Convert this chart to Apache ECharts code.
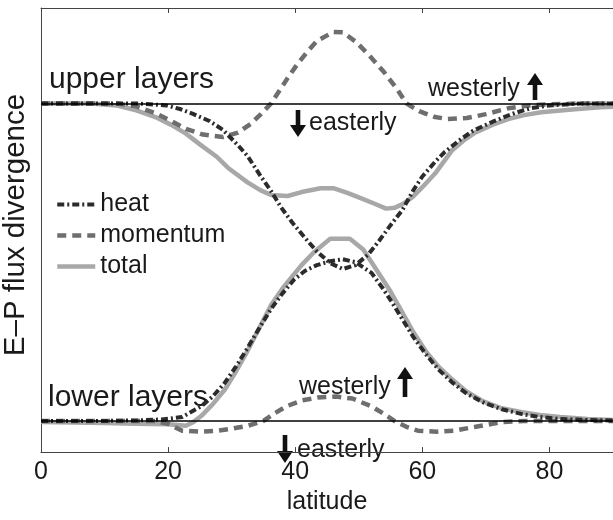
<!DOCTYPE html>
<html><head><meta charset="utf-8">
<script src="https://cdn.jsdelivr.net/npm/echarts@6/dist/echarts.min.js"></script>
<style>html,body{margin:0;padding:0;background:#fff}#c{width:613px;height:520px}</style>
</head><body><div id="c"></div>
<script>
// latitude tick labels
const xTicks = [0, 20, 40, 60, 80];
const legendNames = ['heat', 'momentum', 'total'];

// upper layers: [latitude, E-P flux divergence (arb. units)]
const upperHeat = [[0,0],[10,0],[15,0],[19.7,-0.2],[22,-0.6],[24,-1.1],[26.5,-1.8],[28.6,-2.7],[31,-4.3],[32.5,-5.4],[34.6,-7.5],[36.2,-9.0],[37.7,-10.6],[39.5,-12.2],[41.4,-13.7],[43.4,-15.2],[45.5,-16.4],[47.5,-17.0],[49.5,-16.6],[51.5,-15.5],[53.2,-14.1],[55,-12.5],[56.9,-10.9],[58.5,-9.0],[60,-7.5],[62,-6.0],[63.5,-5.0],[66,-3.7],[68,-2.8],[71,-1.9],[74,-1.1],[77,-0.5],[80,-0.2],[85,0],[90,0]];
const upperMomentum = [[0,0],[8,0],[12,0],[15,-0.3],[18,-1.0],[20.5,-1.8],[22.8,-2.6],[25.5,-3.2],[28.6,-3.45],[31,-3.0],[33,-2.1],[34.6,-1.1],[36.2,0],[38.8,2.6],[40.3,4.0],[41.9,5.3],[43.4,6.4],[46,7.35],[47.5,7.3],[49.6,6.3],[51.7,4.9],[54,3.2],[56,1.5],[57.5,0],[59.5,-0.8],[62,-1.4],[64,-1.6],[67,-1.5],[70,-1.1],[73.5,-0.5],[77,-0.2],[80,-0.1],[85,0],[90,0]];
const upperTotal = [[0,0],[8,0],[11.8,-0.2],[15,-0.7],[18,-1.4],[20.5,-2.2],[22.8,-3.1],[25,-4.2],[27.7,-5.5],[29.4,-6.6],[32.5,-8.1],[34.5,-8.9],[36.2,-9.4],[38.8,-9.5],[41,-9.1],[44,-8.7],[46,-8.7],[48.3,-9.2],[50.2,-9.7],[52.5,-10.3],[54.3,-10.8],[55.7,-10.7],[57,-10.3],[58.5,-9.6],[60,-8.6],[62,-7.2],[64.7,-4.8],[66.5,-3.8],[68.3,-3.0],[71,-2.2],[73.5,-1.6],[76,-1.2],[78.7,-0.9],[84,-0.6],[88,-0.4],[90,-0.35]];

// lower layers
const lowerHeat = [[0,0],[10,0],[15,0.05],[19,0.15],[22.2,0.4],[25.2,1.5],[27,2.5],[28.9,3.9],[30.7,5.6],[32.5,7.5],[34.4,9.6],[36.2,11.5],[38,13.1],[39.8,14.5],[41.5,15.4],[43.4,16.0],[45.5,16.4],[47.5,16.6],[49.5,16.3],[52,15.2],[53.8,13.6],[55.3,12.1],[56.8,10.5],[58.6,8.6],[60.5,6.9],[62.5,5.3],[64.8,3.9],[67,2.8],[69.6,1.9],[72.5,1.2],[75.7,0.7],[78.5,0.4],[81.7,0.2],[86,0.1],[90,0.05]];
const lowerMomentum = [[0,0],[10,0],[18,0],[20,-0.3],[22.2,-1.0],[25,-1.1],[27.7,-1.0],[30,-0.8],[32.5,-0.5],[35,0],[36.8,0.8],[38.6,1.5],[41,2.1],[43.5,2.4],[46.5,2.5],[49,2.3],[52,1.5],[54,0.7],[55.6,0],[57.5,-0.6],[59.3,-1.0],[62.3,-1.1],[65,-1.0],[68.4,-0.6],[72.7,-0.1],[76,0],[90,0]];
const lowerTotal = [[0,-0.1],[10,-0.2],[15,-0.3],[20,-0.35],[22.8,-0.5],[24,-0.1],[25.2,0.5],[27,1.7],[28.9,3.2],[30.7,5.1],[32.5,7.2],[34.4,9.6],[36.2,11.9],[38,13.6],[39.6,14.9],[41,16.0],[42.9,17.3],[45.5,18.7],[48.6,18.7],[50.7,17.6],[52.5,15.8],[54.8,13.5],[56.8,11.2],[58.6,9.1],[60.5,7.2],[62.5,5.6],[64.8,4.2],[67,3.0],[69.6,2.0],[72.5,1.3],[75.7,0.9],[78.5,0.6],[81.7,0.4],[86,0.2],[90,0.1]];

const FONT = 'Liberation Sans, Arial, Helvetica, sans-serif';
const TXT = '#1a1a1a';
const AX = '#444';

const styles = {
  heat: { color: '#2b2b2b', width: 4, type: [7, 3, 2, 3] },
  momentum: { color: '#6e6e6e', width: 4.5, type: [9, 6] },
  total: { color: '#a8a8a8', width: 4.5, type: 'solid' }
};

function mkSeries(name, data, yIdx, z, withZero) {
  const st = styles[name];
  const s = {
    type: 'line', name: name, data: data, xAxisIndex: 0, yAxisIndex: yIdx,
    showSymbol: false, symbol: 'none', smooth: false, z: z,
    lineStyle: { color: st.color, width: st.width, type: st.type, cap: 'butt' },
    itemStyle: { color: st.color },
    emphasis: { disabled: true }
  };
  if (withZero) {
    s.markLine = {
      silent: true, symbol: 'none', label: { show: false },
      lineStyle: { color: '#000', width: 1.5, type: 'solid' },
      data: [{ yAxis: 0 }], animation: false
    };
  }
  return s;
}

function arrow(cx, tipY, tailY) {
  const dir = tailY > tipY ? 1 : -1;
  const hh = 12 * dir, hw = 8, sw = 2.3;
  return {
    type: 'polygon', silent: true,
    shape: { points: [[cx, tipY], [cx + hw, tipY + hh], [cx + sw, tipY + hh], [cx + sw, tailY], [cx - sw, tailY], [cx - sw, tipY + hh], [cx - hw, tipY + hh]] },
    style: { fill: '#111' }
  };
}
function label(text, x, y, size) {
  return { type: 'text', x: x, y: y, silent: true,
    style: { text: text, fontSize: size, fontFamily: FONT, fill: TXT, align: 'left', verticalAlign: 'middle' } };
}

const chart = echarts.init(document.getElementById('c'), null, { renderer: 'canvas' });
chart.setOption({
  animation: false,
  backgroundColor: '#fff',
  grid: { left: 41, top: 8, bottom: 56, right: -6, containLabel: false },
  legend: {
    data: legendNames.map(n => ({
      name: n,
      itemStyle: { opacity: 0 },
      lineStyle: { color: styles[n].color, width: styles[n].width, type: styles[n].type, opacity: 1 }
    })),
    orient: 'vertical', left: 55, top: 192,
    itemWidth: 38, itemHeight: 14, itemGap: 6, padding: 0,
    textStyle: { fontSize: 25, fontFamily: FONT, color: TXT },
    selectedMode: false
  },
  xAxis: [
    { type: 'value', min: 0, max: 90, interval: 20, position: 'bottom',
      axisLine: { show: true, onZero: false, lineStyle: { color: AX, width: 1 } },
      axisTick: { show: true, inside: true, length: 5, lineStyle: { color: AX } },
      axisLabel: { show: true, fontSize: 25, fontFamily: FONT, color: TXT, margin: 8, showMaxLabel: false,
        formatter: v => (xTicks.indexOf(v) >= 0 ? String(v) : '') },
      splitLine: { show: false },
      name: 'latitude', nameLocation: 'middle', nameGap: 26,
      nameTextStyle: { fontSize: 25, fontFamily: FONT, color: TXT } },
    { type: 'value', min: 0, max: 90, interval: 20, position: 'top',
      axisLine: { show: true, onZero: false, lineStyle: { color: AX, width: 1 } },
      axisTick: { show: true, inside: true, length: 5, lineStyle: { color: AX } },
      axisLabel: { show: false }, splitLine: { show: false } }
  ],
  yAxis: [
    { type: 'value', min: -35.8, max: 9.8, position: 'left',
      axisLine: { show: true, onZero: false, lineStyle: { color: AX, width: 1 } },
      axisTick: { show: false }, axisLabel: { show: false }, splitLine: { show: false } },
    { type: 'value', min: -3.2, max: 42.4, position: 'left', show: false,
      axisLine: { show: false, onZero: false }, axisTick: { show: false },
      axisLabel: { show: false }, splitLine: { show: false } }
  ],
  series: [
    mkSeries('total', upperTotal, 0, 2, true),
    mkSeries('momentum', upperMomentum, 0, 3, false),
    mkSeries('heat', upperHeat, 0, 4, false),
    mkSeries('total', lowerTotal, 1, 2, true),
    mkSeries('momentum', lowerMomentum, 1, 3, false),
    mkSeries('heat', lowerHeat, 1, 4, false)
  ],
  graphic: [
    label('upper layers', 49, 79.5, 30),
    label('lower layers', 48, 397.5, 30),
    label('westerly', 428, 89, 25),
    arrow(535, 73, 100),
    label('easterly', 309, 123, 25),
    arrow(298, 137, 110),
    label('westerly', 299, 387, 25),
    arrow(405, 367, 397),
    label('easterly', 297, 450, 25),
    arrow(285, 463, 435),
    { type: 'text', x: 16, y: 225, rotation: Math.PI / 2, silent: true,
      style: { text: 'E–P flux divergence', fontSize: 29.5, fontFamily: FONT, fill: TXT, align: 'center', verticalAlign: 'middle' } }
  ]
});
</script>
</body></html>
